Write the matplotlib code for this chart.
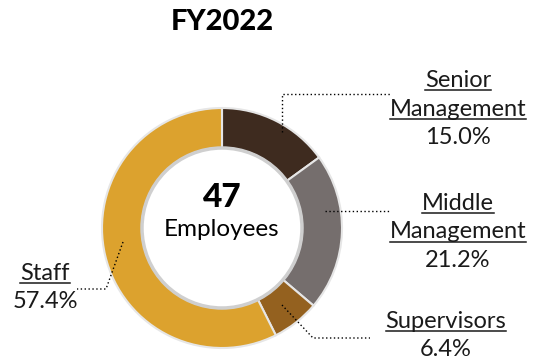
import matplotlib
matplotlib.use('Agg')
import matplotlib.pyplot as plt
from matplotlib.patches import Circle
from matplotlib.lines import Line2D

plt.rcParams['font.family'] = ['Lato', 'DejaVu Sans']

title = 'FY2022'
headcount = 47
categories = ['Senior\nManagement', 'Middle\nManagement', 'Supervisors', 'Staff']
shares = [15.0, 21.2, 6.4, 57.4]
colors = ['#3e2b1f', '#756e6d', '#94611f', '#dca22e']

W, H = 536, 362
# label layout in pixel coords (x, y from top): text centre, first baseline,
# then the leader-line path from inside the ring to the text
label_pos = [(458, 87), (458, 210), (446, 328), (45, 280)]
leaders = [
    [(282, 132), (282, 94), (390, 94)],
    [(325, 211), (390, 211)],
    [(282, 305), (313, 338), (370, 338)],
    [(123, 242), (106, 289), (77, 289)],
]
cx, cy, r_out, r_in = 222, 228, 120, 80


def fy(y):
    return H - y


fig = plt.figure(figsize=(W / 100, H / 100), dpi=100)
ax = fig.add_axes([0, 0, 1, 1])

ax.pie(shares, colors=colors, startangle=90, counterclock=False,
       center=(cx, fy(cy)), radius=r_out, frame=True,
       wedgeprops=dict(width=r_out - r_in, edgecolor='#e6e6e6', linewidth=1.5))
ax.set_xlim(0, W)
ax.set_ylim(0, H)
ax.set_aspect('equal')
ax.axis('off')
ax.add_patch(Circle((cx, fy(cy)), r_in, facecolor='white',
                    edgecolor='#cfcfcf', linewidth=2.5, zorder=5))

ax.text(cx, fy(30), title, ha='center', va='baseline', fontsize=21,
        fontweight='black', color='black')
ax.text(cx, fy(207), str(headcount), ha='center', va='baseline', fontsize=24,
        fontweight='black', zorder=6)
ax.text(cx, fy(236), 'Employees', ha='center', va='baseline', fontsize=17.5,
        zorder=6)

line_h = 28.5
fs = 17
names = []
for cat, val, (lx, ly), path in zip(categories, shares, label_pos, leaders):
    rows = cat.split('\n')
    for i, row in enumerate(rows):
        t = ax.text(lx, fy(ly + i * line_h), row, ha='center', va='baseline',
                    fontsize=fs, color='#1a1a1a')
        names.append((t, fy(ly + i * line_h)))
    ax.text(lx, fy(ly + len(rows) * line_h), f'{val:.1f}%', ha='center',
            va='baseline', fontsize=fs, color='#1a1a1a')
    xs = [p[0] for p in path]
    ys = [fy(p[1]) for p in path]
    ax.plot(xs, ys, color='black', linestyle=(0, (1, 1.8)), linewidth=1.0,
            zorder=7)

# underline the category names
fig.canvas.draw()
renderer = fig.canvas.get_renderer()
for t, base in names:
    bb = t.get_window_extent(renderer)
    ax.add_line(Line2D([bb.x0, bb.x1], [base - 3, base - 3], color='#1a1a1a',
                       linewidth=1.1))

fig.savefig('out.png', dpi=100)
